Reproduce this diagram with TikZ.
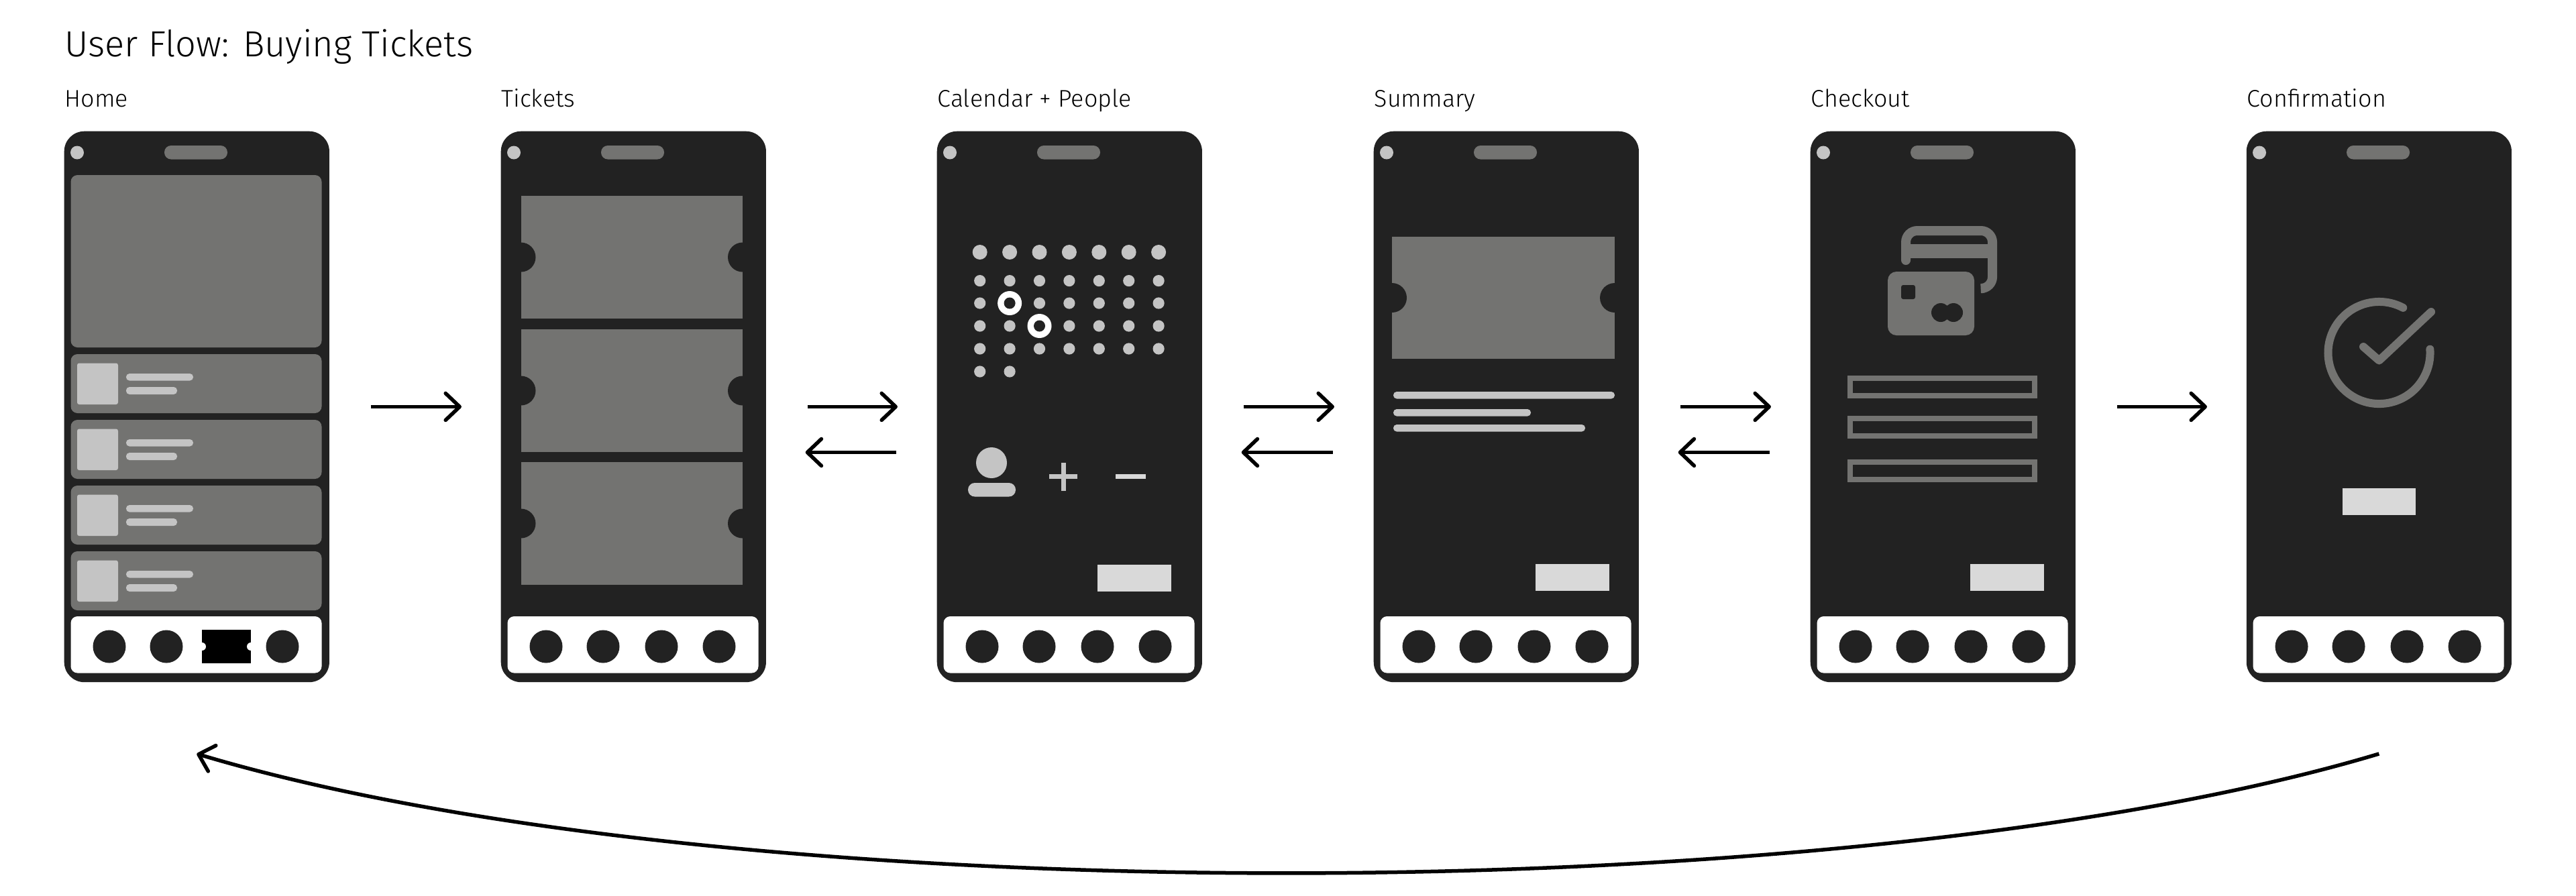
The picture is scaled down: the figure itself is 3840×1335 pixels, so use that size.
\documentclass[tikz,border=0pt]{standalone}
\usepackage{fontspec}
\setmainfont{Fira Sans}[UprightFont=* Light]
\usetikzlibrary{arrows.meta}
\definecolor{scuro}{HTML}{222222}
\definecolor{medio}{HTML}{737371}
\definecolor{chiaro}{HTML}{C4C4C4}
\definecolor{bottone}{HTML}{D9D9D9}

\begin{document}
\begin{tikzpicture}[
                x=0.01cm, y=-0.01cm,
                % Stile del corpo del telefono
                telefono/.style={
                    rectangle,
                    fill=scuro,
                    rounded corners=3mm,
                    minimum width=39.5mm,
                    minimum height=82.1mm,
                    inner sep=0pt,
                    anchor=north west
                },
                % Stile per le frecce con la punta aperta
                freccia/.style={
                    -{Straight Barb[length=2.1mm, width=4mm, round]},
                    line width=0.55mm
                },
                titolo/.style={anchor=base west, inner sep=0pt, font=\fontsize{15.4}{18}\selectfont},
                etichetta/.style={anchor=base west, inner sep=0pt, font=\fontsize{10.2}{12}\selectfont},
                tratto/.style={fill=chiaro, rounded corners=0.5mm},
                bottone/.style={fill=bottone}
            ]
                \useasboundingbox (0,0) rectangle (3840,1335);

                \node [titolo] (titolo) at (96,84) {User Flow: Buying Tickets};

                % 1. Corpo comune dei sei telefoni
                \foreach \nome/\testo/\posx in {home/Home/95, tickets/Tickets/746, calendario/Calendar + People/1396, riepilogo/Summary/2047, cassa/Checkout/2698, conferma/Confirmation/3348} {
                    \node [telefono] (\nome) at (\posx,195) {};
                    \node [etichetta] (\nome-testo) at (\posx+1,159) {\testo};
                    \begin{scope}[shift={(\posx,0)}]
                        \fill [chiaro] (20,227.5) circle [radius=10];
                        \fill [medio, rounded corners=1mm] (150,217) rectangle (244,237.5);
                        \fill [white, rounded corners=1mm] (10.5,919) rectangle (384.5,1003.5);
                        \foreach \cx in {68,153,326}
                            \fill [scuro] (\cx,964) circle [radius=24.5];
                    \end{scope}
                }
                % Quarta icona della barra, il biglietto solo su Home
                \foreach \posx in {746,1396,2047,2698,3348}
                    \fill [scuro] (\posx+240,964) circle [radius=24.5];

                % 2. Home
                \begin{scope}[shift={(95,0)}]
                    \fill [medio, rounded corners=1mm] (10.5,261) rectangle (384.5,518);
                    \foreach \cy in {528,626,724,822} {
                        \fill [medio, rounded corners=1mm] (10.5,\cy) rectangle (384.5,\cy+88);
                        \fill [chiaro, rounded corners=0.3mm] (20,\cy+13.5) rectangle (81,\cy+75);
                        \fill [tratto] (93,\cy+29) rectangle (193,\cy+39.5);
                        \fill [tratto] (93,\cy+49) rectangle (169,\cy+60);
                    }
                    \fill [black] (206,939) rectangle (279,989);
                    \fill [white] (206,964) circle [radius=6];
                    \fill [white] (279,964) circle [radius=6];
                \end{scope}

                % 3. Tickets
                \begin{scope}[shift={(746,0)}]
                    \foreach \cy in {292,491,689} {
                        \fill [medio] (30.5,\cy) rectangle (361,\cy+183);
                        \fill [scuro] (30.5,\cy+91.5) circle [radius=22];
                        \fill [scuro] (361,\cy+91.5) circle [radius=22];
                    }
                \end{scope}

                % 4. Calendar + People
                \begin{scope}[shift={(1396,0)}]
                    \foreach \col in {0,...,6} {
                        \fill [chiaro] (64.7+44.4*\col,376) circle [radius=11];
                        \foreach \cy in {418.6,452,486,520}
                            \fill [chiaro] (64.7+44.4*\col,\cy) circle [radius=8.6];
                    }
                    \foreach \col in {0,1}
                        \fill [chiaro] (64.7+44.4*\col,554) circle [radius=8.6];
                    % Giorni selezionati
                    \foreach \col/\cy in {1/452,2/486} {
                        \fill [white] (64.7+44.4*\col,\cy) circle [radius=18];
                        \fill [scuro] (64.7+44.4*\col,\cy) circle [radius=8.5];
                    }
                    \fill [chiaro] (82,690) circle [radius=23];
                    \fill [chiaro, rounded corners=1mm] (47,720) rectangle (118,740.5);
                    \fill [chiaro] (168,707) rectangle (210,714);
                    \fill [chiaro] (185.5,689.5) rectangle (192.5,731.5);
                    \fill [bottone] (267,707) rectangle (312,714);
                    \fill [bottone] (240,842) rectangle (350,881.5);
                \end{scope}

                % 5. Summary
                \begin{scope}[shift={(2047,0)}]
                    \fill [medio] (28,353) rectangle (360,535);
                    \fill [scuro] (28,444) circle [radius=22];
                    \fill [scuro] (360,444) circle [radius=22];
                    \fill [tratto] (30,584) rectangle (360,594.5);
                    \fill [tratto] (30,610) rectangle (235,620.5);
                    \fill [tratto] (30,633) rectangle (316,643.5);
                    \fill [bottone] (242,841) rectangle (352,881);
                \end{scope}

                % 6. Checkout
                \begin{scope}[shift={(2698,0)}]
                    \draw [medio, line width=1.4mm, line cap=round, rounded corners=1.7mm] (143,388) -- (143,344) -- (272,344) -- (272,430) -- (258,430);
                    \fill [medio] (143,364) rectangle (272,385);
                    \fill [medio, rounded corners=1.3mm] (116,405) rectangle (245,500);
                    \fill [scuro, rounded corners=0.3mm] (136,425) rectangle (157,446);
                    \fill [scuro] (195,466) circle [radius=14];
                    \fill [scuro] (214,466) circle [radius=14];
                    \foreach \cy in {560,620,685}
                        \draw [medio, line width=0.8mm] (60,\cy+4) rectangle (335,\cy+30);
                    \fill [bottone] (239,841) rectangle (349,881);
                \end{scope}

                % 7. Confirmation
                \begin{scope}[shift={(3348,0)}]
                    \draw [medio, line width=1.2mm, line cap=round] ([shift={(62:7.6mm)}] 198.5,526) arc [start angle=62, end angle=364, radius=7.6mm];
                    \draw [medio, line width=1.2mm, line cap=round, line join=round] (175,517) -- (198.5,537.5) -- (276,465);
                    \fill [bottone] (144,728) rectangle (253,767.5);
                \end{scope}

                % 8. Frecce in avanti e all'indietro
                \foreach \da/\a in {home/tickets, tickets/calendario, calendario/riepilogo, riepilogo/cassa, cassa/conferma}
                    \draw [freccia] ([xshift=6.1mm]\da.east) -- ([xshift=-5.8mm]\a.west);
                \foreach \da/\a in {calendario/tickets, riepilogo/calendario, cassa/riepilogo}
                    \draw [freccia] ([shift={(-6mm,-6.8mm)}]\da.west) -- ([shift={(5.8mm,-6.8mm)}]\a.east);

                % 9. Freccia di ritorno verso Home
                \draw [freccia] ([yshift=-10.6mm]conferma.south) .. controls +(-790,237) and +(790,237) .. ([yshift=-10.6mm]home.south);
            \end{tikzpicture}
\end{document}
